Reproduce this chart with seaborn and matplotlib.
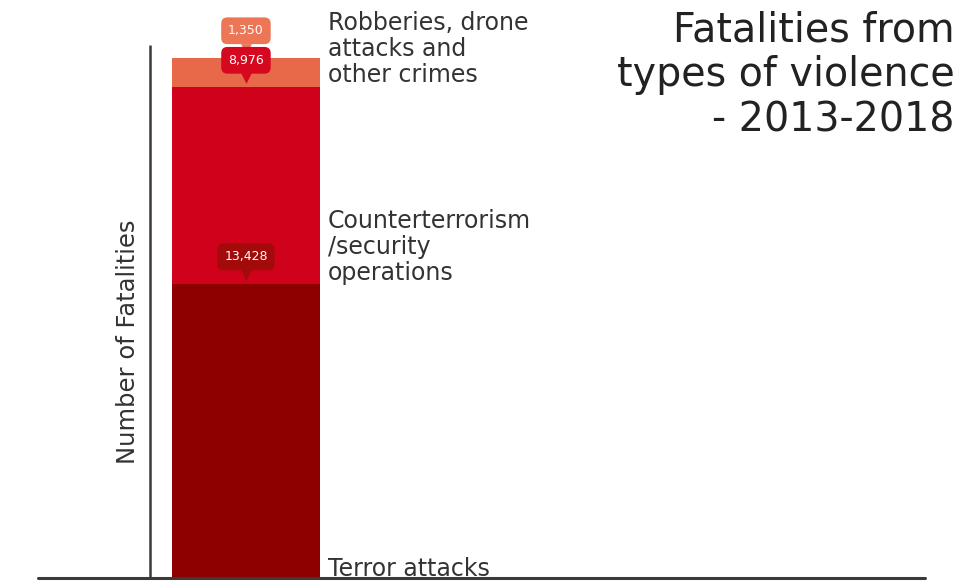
import matplotlib
matplotlib.use("Agg")
import matplotlib.pyplot as plt
import matplotlib.transforms as mtransforms
import numpy as np
import pandas as pd
import seaborn as sns

# Fatalities by type of violence, 2013-2018 (stacked bottom to top)
categories = ["Terror attacks", "Counterterrorism\n/security\noperations",
              "Robberies, drone\nattacks and\nother crimes"]
fatalities = [13428, 8976, 1350]
value_labels = ["13,428", "8,976", "1,350"]
seg_colors = ["#8E0000", "#D0011B", "#E8694A"]
box_colors = ["#A30A0A", "#D6081F", "#EC7656"]

sns.set_theme(style="white")
plt.rcParams["font.family"] = ["DejaVu Sans"]

W, H = 976, 582
fig = plt.figure(figsize=(W / 100, H / 100), dpi=100)
ax_left, ax_right, ax_bottom, ax_top = 38, 925, 578, 45
ax = fig.add_axes([ax_left / W, (H - ax_bottom) / H,
                   (ax_right - ax_left) / W, (ax_bottom - ax_top) / H])
YMAX = 24340


def px_to_val(py):
    """Convert a vertical pixel position (from the top) into data units."""
    return (ax_bottom - py) / (ax_bottom - ax_top) * YMAX


tops = np.cumsum(fatalities)

# Draw the stack from the tallest cumulative bar down so lower segments overlay
for i in reversed(range(len(fatalities))):
    df = pd.DataFrame({"period": ["2013-2018"], "value": [tops[i]]})
    sns.barplot(data=df, x="period", y="value", color=seg_colors[i],
                saturation=1, width=1.0, ax=ax, edgecolor="none", linewidth=0)

ax.set_xlim(-1.405, 4.588)
ax.set_ylim(0, YMAX)
ax.set_xticks([])
ax.set_yticks([])
ax.set_xlabel("")
ax.set_ylabel("")
for s in ax.spines.values():
    s.set_visible(False)

# baseline and value axis
ax.axhline(0, color="#3a3a3a", lw=2.2, clip_on=False)
ax.plot([-0.649, -0.649], [0, YMAX], color="#3a3a3a", lw=1.8,
        solid_capstyle="butt", clip_on=False)
ax.text(-0.80, px_to_val(342), "Number of Fatalities", rotation=90,
        ha="center", va="center", fontsize=17.5, color="#333333")

# value callouts with a downward pointer at the top of each segment
tri_tf = mtransforms.offset_copy(ax.transData, fig=fig, y=6.5, units="points")
for i in [0, 2, 1]:
    ax.scatter([0], [tops[i]], marker="v", s=60, color=box_colors[i],
               transform=tri_tf, clip_on=False, zorder=5, linewidths=0)
    ax.annotate(value_labels[i], xy=(0, tops[i]), xytext=(0, 19.5),
                textcoords="offset points", ha="center", va="center",
                fontsize=9, color="white", zorder=6, annotation_clip=False,
                bbox=dict(boxstyle="round,pad=0.55,rounding_size=0.5",
                          fc=box_colors[i], ec="none"))

# category labels beside the bar
lab_x = 0.555
lab_kw = dict(ha="left", fontsize=17, color="#333333", linespacing=1.08)
ax.text(lab_x, px_to_val(576), categories[0], va="baseline", **lab_kw)
ax.text(lab_x, px_to_val(247), categories[1], va="center", **lab_kw)
ax.text(lab_x, px_to_val(49), categories[2], va="center", **lab_kw)

fig.text(955 / W, 1 - 10 / H, "Fatalities from\ntypes of violence\n- 2013-2018",
         ha="right", va="top", fontsize=28.5, color="#222222", linespacing=1.17)

fig.savefig("out.png", dpi=100)
